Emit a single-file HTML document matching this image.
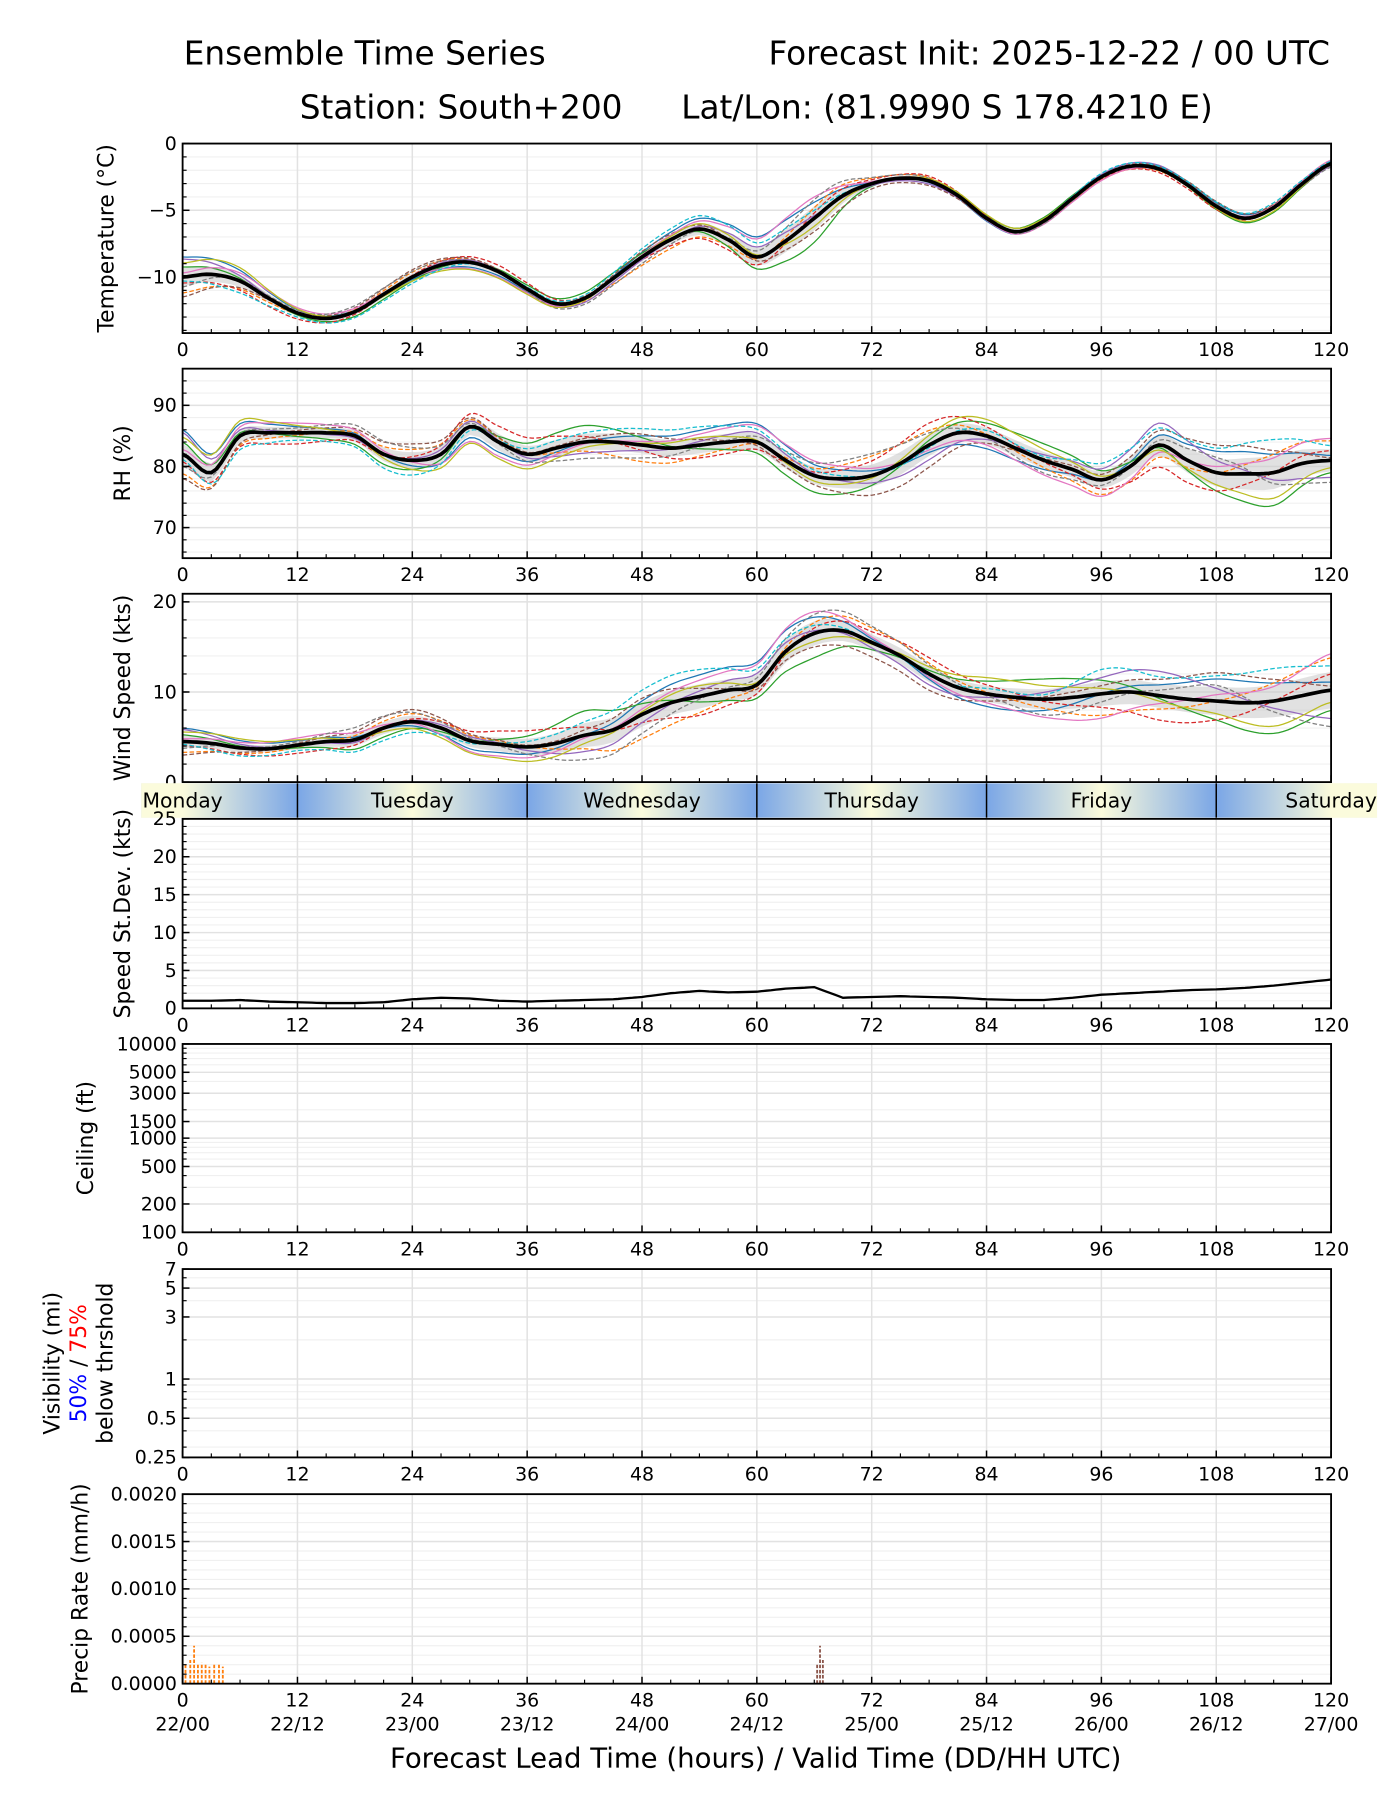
<!DOCTYPE html>
<html><head><meta charset="utf-8"><style>
html,body{margin:0;padding:0;background:#fff;}
svg{display:block;font-family:"DejaVu Sans","Liberation Sans",sans-serif;}
</style></head><body>
<svg id="fig" width="1400" height="1800" viewBox="0 0 1219 1567.3" xmlns="http://www.w3.org/2000/svg">
<defs>
<linearGradient id="dayGrad" x1="0" x2="1" y1="0" y2="0">
<stop offset="0" stop-color="#7aa6e6"/><stop offset="0.5" stop-color="#fbfbdc"/><stop offset="1" stop-color="#7aa6e6"/>
</linearGradient>
</defs>
<text x="160" y="56" font-size="28.5">Ensemble Time Series</text>
<text x="1158" y="56" font-size="28.5" text-anchor="end">Forecast Init: 2025-12-22 / 00 UTC</text>
<text x="261" y="103" font-size="28.5">Station: South+200</text>
<text x="1056" y="103" font-size="28.5" text-anchor="end">Lat/Lon: (81.9990 S 178.4210 E)</text>
<g id="root"></g>
</svg>
<script>
// ---- data ----
const hours3 = [0,3,6,9,12,15,18,21,24,27,30,33,36,39,42,45,48,51,54,57,60,63,66,69,72,75,78,81,84,87,90,93,96,99,102,105,108,111,114,117,120];
const tempMean = [-10,-9.8,-10.3,-11.6,-12.7,-13.1,-12.6,-11.3,-10,-9.1,-8.9,-9.6,-10.9,-12,-11.6,-10.1,-8.5,-7.2,-6.4,-7.2,-8.5,-7.3,-5.6,-3.9,-3.0,-2.6,-2.8,-3.9,-5.6,-6.6,-5.8,-4.1,-2.5,-1.7,-1.9,-3.1,-4.7,-5.6,-4.8,-3.0,-1.5];
const rhMean = [82,79,85,85.5,85.5,85.5,85,82,81,82,86.5,84,82,83,84,84,83.5,83,83.5,84,84,81,78.5,78,78.5,80.5,83.5,85.5,85,83,81,79.5,77.8,80,83.5,81,79,78.8,79,80.5,81];
const windMean = [4.5,4.3,3.8,3.7,4.1,4.5,4.7,6,6.7,6,4.6,4.2,3.9,4.3,5.2,5.8,7.5,8.8,9.5,10.2,10.8,14.5,16.5,16.8,15.5,14,12,10.5,9.8,9.4,9.2,9.4,9.8,10,9.6,9.2,9,8.8,9,9.6,10.2];
const stdevVals = [1,1,1.1,0.9,0.8,0.7,0.7,0.8,1.2,1.4,1.3,1,0.9,1,1.1,1.2,1.5,2,2.3,2.1,2.2,2.6,2.8,1.4,1.5,1.6,1.5,1.4,1.2,1.1,1.1,1.4,1.8,2,2.2,2.4,2.5,2.7,3,3.4,3.8];
const hours6 = [0,6,12,18,24,30,36,42,48,54,60,66,72,78,84,90,96,102,108,114,120];
const tempSpread = [1.5,1,.5,.5,.6,.6,.5,.5,.7,1,1.5,2,.5,.4,.3,.3,.3,.3,.4,.4,.3];
const rhSpread = [4,2.5,2,2,3,3,3,3,3,3,3,3,4,4,3,3,3,4,5,6,4];
const windSpread = [1.5,1,1,1.5,1.5,1.5,2,3,3,3,2.5,3,2,2,2,2.5,3,3,3.5,4,4.5];
const memberPatterns = [
[1,.8,.5,.2,-.3,-.6,-.4,0,.5,.8,1,.6,.2,-.3,-.7,-.5,0,.4,.7,.5,.2],
[-.8,-.6,-.2,.3,.6,.4,0,-.5,-.9,-.6,-.1,.4,.8,.6,.1,-.4,-.8,-.5,0,.5,.8],
[.5,.2,-.3,-.7,-.5,0,.6,.9,.4,-.2,-.6,-.9,-.4,.2,.7,.9,.5,-.1,-.6,-.9,-.5],
[-.3,-.7,-.9,-.4,.2,.7,.9,.3,-.3,-.7,-.4,.2,.6,.9,.5,-.1,-.5,-.9,-.6,0,.4],
[.9,.4,0,-.2,.1,.3,-.2,-.6,-.3,.2,.5,.1,-.3,-.6,-.2,.3,.6,.9,.4,-.2,-.7],
[-1,-.5,.2,.6,.9,.5,.1,.2,.6,.3,-.2,-.5,-.8,-.9,-.4,.1,.3,.6,.9,.6,.1],
[.2,.6,.8,.5,-.1,-.8,-.6,-.1,.2,.6,.9,.8,.3,-.2,-.5,-.8,-.9,-.3,.2,.4,.9],
[-.5,.1,.4,.9,.7,.2,-.4,-.9,-.7,-.1,.3,.7,.9,.5,-.1,-.7,-.3,.2,.5,-.3,-.9],
[.7,1,.6,0,-.5,-.9,-.8,-.3,.1,.4,.1,-.3,-.1,.4,.9,.6,.2,-.2,-.4,-.7,-.3],
[-.2,-.9,-.6,-.9,-.8,-.2,.3,.5,.9,1,.7,.3,0,-.1,.3,.2,.9,.7,.8,.9,.6]
];
const memberColors = ['#1f77b4','#ff7f0e','#2ca02c','#d62728','#9467bd','#8c564b','#e377c2','#7f7f7f','#bcbd22','#17becf'];
const precipHours = [0.3,0.8,1.2,1.6,2.0,2.4,2.8,3.3,3.8,4.2,66.3,66.6,66.9];
const precipVals = [0.0002,0.00025,0.0004,0.0002,0.00022,0.0002,0.00018,0.0002,0.0002,0.00018,0.0002,0.0004,0.00025];
const precipColors = ['#ff7f0e','#ff7f0e','#ff7f0e','#ff7f0e','#ff7f0e','#ff7f0e','#ff7f0e','#ff7f0e','#ff7f0e','#ff7f0e','#8c564b','#8c564b','#8c564b'];
const xTicks = [0,12,24,36,48,60,72,84,96,108,120];
const dateLabels = ['22/00','22/12','23/00','23/12','24/00','24/12','25/00','25/12','26/00','26/12','27/00'];
const dayNames = ['Monday','Tuesday','Wednesday','Thursday','Friday','Saturday'];

// ---- layout ----
const NS='http://www.w3.org/2000/svg';
const root=document.getElementById('root');
const X0=159, X1=1159;
const FT=16.5, FY=19;
const xs=h=>X0+(h/120)*(X1-X0);
function el(tag,attrs,parent){const e=document.createElementNS(NS,tag);for(const k in attrs)e.setAttribute(k,attrs[k]);(parent||root).appendChild(e);return e;}
function interp(hs,vs,h){for(let i=0;i<hs.length-1;i++){if(h<=hs[i+1]){const t=(h-hs[i])/(hs[i+1]-hs[i]);return vs[i]+(vs[i+1]-vs[i])*t;}}return vs[vs.length-1];}
function smooth(hs,vs,h){
 let i=0;while(i<hs.length-2&&h>hs[i+1])i++;
 const t=(h-hs[i])/(hs[i+1]-hs[i]);
 const p0=vs[Math.max(i-1,0)],p1=vs[i],p2=vs[i+1],p3=vs[Math.min(i+2,vs.length-1)];
 return 0.5*((2*p1)+(-p0+p2)*t+(2*p0-5*p1+4*p2-p3)*t*t+(-p0+3*p1-3*p2+p3)*t*t*t);
}
function pathFrom(fn,ys){let d='';for(let h=0;h<=120;h+=0.5){d+=(h?'L':'M')+xs(h).toFixed(1)+','+ys(fn(h)).toFixed(1);}return d;}

function panel(name,top,bot,ys,yMajor,yMinor,yLabels,title){
 const g=el('g',{});
 
 
 yMinor.forEach(v=>{const y=ys(v);const l=el('line',{x1:X0,x2:X1,y1:y,y2:y,stroke:'#f0f0f0','stroke-width':1},g);});
 yMajor.forEach(v=>{const y=ys(v);const l=el('line',{x1:X0,x2:X1,y1:y,y2:y,stroke:'#e2e2e2','stroke-width':1.3},g);});
 xTicks.forEach(h=>{const l=el('line',{x1:xs(h),x2:xs(h),y1:top,y2:bot,stroke:'#e2e2e2','stroke-width':1.3},g);});
 const content=el('g',{},g);
 
 
 for(let h=0;h<=120;h+=3){const major=h%12===0;const t=el('line',{x1:xs(h),x2:xs(h),y1:bot,y2:bot-(major?6:3.5),stroke:'#000','stroke-width':major?1.3:1},g);}
 yMajor.forEach(v=>{const t=el('line',{x1:X0,x2:X0+6,y1:ys(v),y2:ys(v),stroke:'#000','stroke-width':1.3},g);});
 yMinor.forEach(v=>{const t=el('line',{x1:X0,x2:X0+3.5,y1:ys(v),y2:ys(v),stroke:'#000','stroke-width':1},g);});
 yLabels.forEach(([v,s])=>{const t=el('text',{x:X0-5,y:ys(v)+5.5,'font-size':FT,'text-anchor':'end'},g);t.textContent=s;});
 xTicks.forEach(h=>{const t=el('text',{x:xs(h),y:bot+20,'font-size':FT,'text-anchor':'middle'},g);t.textContent=h;});
 const fr=el('rect',{x:X0,y:top,width:X1-X0,height:bot-top,fill:'none',stroke:'#000','stroke-width':1.6},g);
 
 if(title){const cy=(top+bot)/2;const t=el('text',{x:0,y:0,'font-size':FY,'text-anchor':'middle',transform:`translate(${title.x},${cy}) rotate(-90)`},g);t.textContent=title.text;}
 return content;
}
function range(a,b,s){const r=[];for(let v=a;v<=b+1e-9;v+=s)r.push(+v.toFixed(6));return r;}

function ensemble(content,mean,spread,ys,minV){
 const fm=h=>smooth(hours3,mean,h);
 const fs=h=>smooth(hours6,spread,h);
 let up='',dn='';
 for(let h=0;h<=120;h+=1){up+=(h?'L':'M')+xs(h).toFixed(1)+','+ys(fm(h)+0.45*fs(h)).toFixed(1);}
 for(let h=120;h>=0;h-=1){dn+='L'+xs(h).toFixed(1)+','+ys(fm(h)-0.45*fs(h)).toFixed(1);}
 const b=el('path',{d:up+dn+'Z',fill:'#c8c8c8','fill-opacity':0.55,stroke:'none'},content);
 
 memberPatterns.forEach((p,i)=>{
  const f=h=>{let v=fm(h)+fs(h)*smooth(hours6,p,h);if(minV!==undefined&&v<minV)v=minV;return v;};
  const m=el('path',{d:pathFrom(f,ys),fill:'none',stroke:memberColors[i],'stroke-width':1.1,'stroke-dasharray':i%2?'4,2':'none'},content);
  
 });
 const ml=el('path',{d:pathFrom(fm,ys),fill:'none',stroke:'#000','stroke-width':3.2},content);
 
}

// Temperature
{const top=125,bot=290,ys=v=>top+(0-v)/14.2*(bot-top);
 const c=panel('temperature',top,bot,ys,[0,-5,-10],range(-14,0,1),[[0,'0'],[-5,'−5'],[-10,'−10']],{x:99,text:'Temperature (°C)'});
 ensemble(c,tempMean,tempSpread,ys);}
// RH
{const top=321,bot=486,ys=v=>top+(96-v)/(96-65)*(bot-top);
 const c=panel('rh',top,bot,ys,[70,80,90],range(66,96,2),[[70,'70'],[80,'80'],[90,'90']],{x:113,text:'RH (%)'});
 ensemble(c,rhMean,rhSpread,ys);}
// Wind
{const top=517,bot=681,ys=v=>bot-v/20.9*(bot-top);
 const c=panel('wind',top,bot,ys,[0,10,20],range(0,20,2),[[0,'0'],[10,'10'],[20,'20']],{x:113,text:'Wind Speed (kts)'});
 ensemble(c,windMean,windSpread,ys,0.2);}
// Day band
{const g=el('g',{});
 const top=682,bot=712;
 const cp=el('clipPath',{id:'bandClip'},document.querySelector('defs'));
 el('rect',{x:123,y:top,width:1199-123,height:bot-top},cp);
 for(let k=-1;k<6;k++){const fullA=xs(12+24*k),w=xs(36+24*k)-fullA;
  const r=el('rect',{x:fullA,y:top,width:w,height:bot-top,fill:'url(#dayGrad)'},g);
  r.setAttribute('clip-path','url(#bandClip)');}
 el('rect',{x:123,y:top,width:xs(0)-123,height:bot-top,fill:'#fbfbdc'},g);
 el('rect',{x:xs(120),y:top,width:1199-xs(120),height:bot-top,fill:'#fbfbdc'},g);
 [12,36,60,84,108].forEach(h=>{const l=el('line',{x1:xs(h),x2:xs(h),y1:top,y2:bot,stroke:'#000','stroke-width':1.3},g);});
 const centers=[xs(0),xs(24),xs(48),xs(72),xs(96),xs(120)];
 dayNames.forEach((d,i)=>{const t=el('text',{x:centers[i],y:top+21,'font-size':17.7,'text-anchor':'middle'},g);t.textContent=d;});
}
// Stdev
{const top=713,bot=878,ys=v=>bot-v/25*(bot-top);
 const c=panel('speed-stdev',top,bot,ys,[0,5,10,15,20,25],range(0,25,1),[[0,'0'],[5,'5'],[10,'10'],[15,'15'],[20,'20'],[25,'25']],{x:113,text:'Speed St.Dev. (kts)'});
 const l=el('path',{d:pathFrom(h=>interp(hours3,stdevVals,h),ys),fill:'none',stroke:'#000','stroke-width':2},c);
 }
// Ceiling
{const top=909,bot=1073,L=Math.log10,ys=v=>bot-(L(v)-2)/2*(bot-top);
 const minors=[300,400,600,700,800,900,2000,4000,6000,7000,8000,9000];
 panel('ceiling',top,bot,ys,[100,200,500,1000,1500,3000,5000,10000],minors,[[100,'100'],[200,'200'],[500,'500'],[1000,'1000'],[1500,'1500'],[3000,'3000'],[5000,'5000'],[10000,'10000']],{x:81,text:'Ceiling (ft)'});}
// Visibility
{const top=1105,bot=1269,L=Math.log,ys=v=>bot-(L(v)-L(0.25))/(L(7)-L(0.25))*(bot-top);
 panel('visibility',top,bot,ys,[0.25,0.5,1,3,5,7],[0.3,0.4,0.6,0.7,0.8,0.9,2,4,6],[[0.25,'0.25'],[0.5,'0.5'],[1,'1'],[3,'3'],[5,'5'],[7,'7']],null);
 const cy=(top+bot)/2;
 const t1=el('text',{x:0,y:0,'font-size':FY,'text-anchor':'middle',transform:`translate(52,${cy}) rotate(-90)`});t1.textContent='Visibility (mi)';
 const t2=el('text',{x:0,y:0,'font-size':FY,'text-anchor':'middle',transform:`translate(75,${cy}) rotate(-90)`});
 const s1=el('tspan',{fill:'#0000ff'},t2);s1.textContent='50%';const s2=el('tspan',{fill:'#000'},t2);s2.textContent=' / ';const s3=el('tspan',{fill:'#ff0000'},t2);s3.textContent='75%';
 const t3=el('text',{x:0,y:0,'font-size':FY,'text-anchor':'middle',transform:`translate(98,${cy}) rotate(-90)`});t3.textContent='below thrshold';}
// Precip
{const top=1301,bot=1466,ys=v=>bot-v/0.002*(bot-top);
 const c=panel('precip',top,bot,ys,[0,0.0005,0.001,0.0015,0.002],range(0,0.002,0.0001),[[0,'0.0000'],[0.0005,'0.0005'],[0.001,'0.0010'],[0.0015,'0.0015'],[0.002,'0.0020']],{x:76,text:'Precip Rate (mm/h)'});
 precipHours.forEach((h,i)=>{const l=el('line',{x1:xs(h),x2:xs(h),y1:bot,y2:ys(precipVals[i]),stroke:precipColors[i],'stroke-width':1.6,'stroke-dasharray':'3,1.5'},c);});
 xTicks.forEach((h,i)=>{const t=el('text',{x:xs(h),y:bot+41,'font-size':FT,'text-anchor':'middle'});t.textContent=dateLabels[i];});
 const xt=el('text',{x:658,y:1539,'font-size':24,'text-anchor':'middle'});xt.textContent='Forecast Lead Time (hours) / Valid Time (DD/HH UTC)';}
</script>
</body></html>
